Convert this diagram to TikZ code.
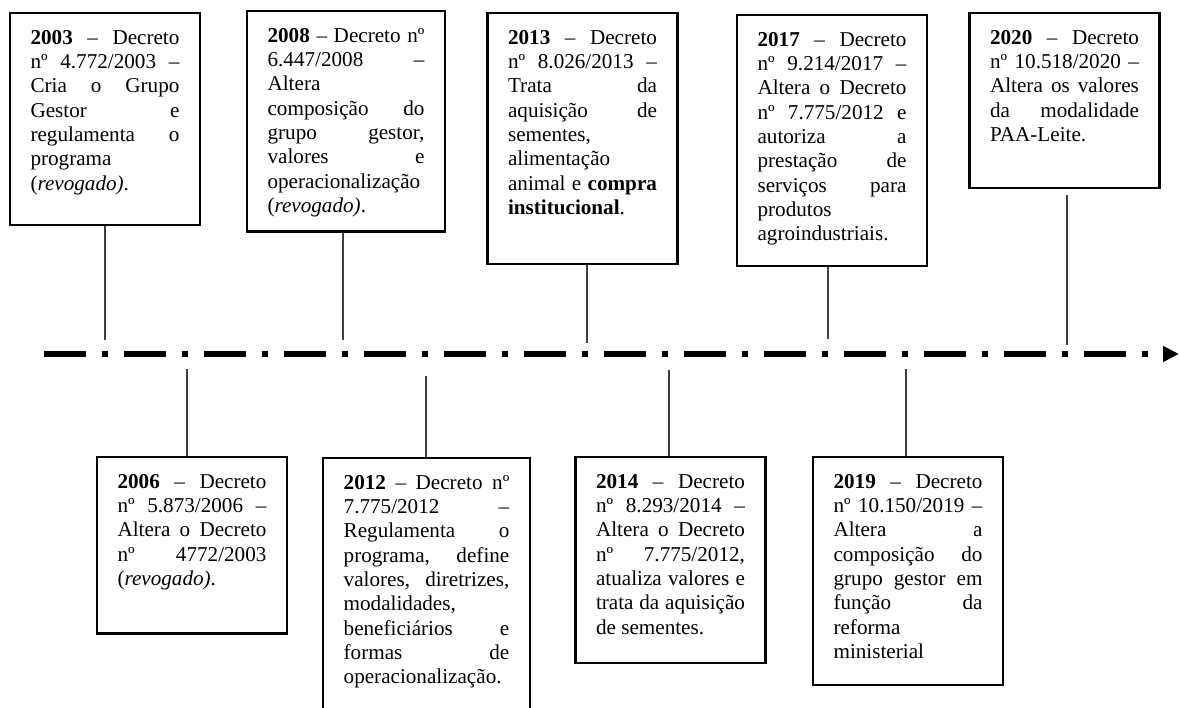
\documentclass[tikz,border=0pt]{standalone}
\usepackage{fontspec}
\setmainfont{Liberation Serif}
\usepackage{tikz}
\usetikzlibrary{arrows.meta}
\definecolor{tlInk}{HTML}{000000}
\definecolor{tlStem}{HTML}{3F3F3F}
\hyphenpenalty=10000
\tolerance=10000
\hbadness=10000
\tikzset{
  decreto/.style={draw=tlInk, line width=1.4pt, text width=84.5pt, align=justify, inner xsep=11.7pt, inner ysep=8.6pt, text height=9pt, anchor=north, font=\fontsize{12pt}{13.8pt}\selectfont},
  haste/.style={draw=tlStem, line width=0.6pt},
  linha/.style={draw=tlInk, line width=3pt, dash pattern=on 23.8pt off 9.1pt on 3.4pt off 9.1pt, -{Triangle[length=9pt,width=8.5pt]}},
}

\begin{document}
\begin{tikzpicture}[x=0.5675pt, y=-0.5675pt]
        \useasboundingbox (0,0) rectangle (1180,708);
        \clip (0,0) rectangle (1180,708);
        % linha do tempo
        \coordinate (inicio) at (44,354);
        \coordinate (fim) at (1179,354);
        \draw[linha] (inicio) -- (fim);
        % decretos acima da linha
        \node[decreto, text depth=94pt] (d2003) at (105,12) {\textbf{2003} – Decreto\linebreak nº 4.772/2003 –\linebreak Cria o Grupo\linebreak Gestor e\linebreak regulamenta o\linebreak programa\linebreak (\textit{revogado)}.};
        \node[decreto, text width=89pt, text depth=98.7pt] (d2008) at (346,10) {\textbf{2008} – Decreto nº\linebreak 6.447/2008 –\linebreak Altera\linebreak composição do\linebreak grupo gestor,\linebreak valores e\linebreak operacionalização\linebreak (\textit{revogado)}.};
        \node[decreto, text depth=116.2pt] (d2013) at (582.5,12) {\textbf{2013} – Decreto\linebreak nº 8.026/2013 –\linebreak Trata da\linebreak aquisição de\linebreak sementes,\linebreak alimentação\linebreak animal e \textbf{compra}\linebreak \textbf{institucional}.};
        \node[decreto, text depth=116.2pt] (d2017) at (832,14) {\textbf{2017} – Decreto\linebreak nº 9.214/2017 –\linebreak Altera o Decreto\linebreak nº 7.775/2012 e\linebreak autoriza a\linebreak prestação de\linebreak serviços para\linebreak produtos\linebreak agroindustriais.};
        \node[decreto, text depth=73.1pt] (d2020) at (1064.5,12) {\textbf{2020} – Decreto\linebreak nº 10.518/2020 –\linebreak Altera os valores\linebreak da modalidade\linebreak PAA-Leite.};
        % decretos abaixo da linha
        \node[decreto, text depth=73.7pt] (d2006) at (192,456) {\textbf{2006} – Decreto\linebreak nº 5.873/2006 –\linebreak Altera o Decreto\linebreak nº 4772/2003\linebreak (\textit{revogado)}.};
        \node[decreto, text width=94pt, text depth=127pt] (d2012) at (426.5,457) {\textbf{2012} – Decreto nº\linebreak 7.775/2012 –\linebreak Regulamenta o\linebreak programa, define\linebreak valores, diretrizes,\linebreak modalidades,\linebreak beneficiários e\linebreak formas de\linebreak operacionalização.};
        \node[decreto, text depth=90.7pt] (d2014) at (670.5,456) {\textbf{2014} – Decreto\linebreak nº 8.293/2014 –\linebreak Altera o Decreto\linebreak nº 7.775/2012,\linebreak atualiza valores e\linebreak trata da aquisição\linebreak de sementes.};
        \node[decreto, text depth=103.2pt] (d2019) at (908,456) {\textbf{2019} – Decreto\linebreak nº 10.150/2019 –\linebreak Altera a\linebreak composição do\linebreak grupo gestor em\linebreak função da\linebreak reforma\linebreak ministerial};
        % hastes
        \coordinate (m2003) at (105,340);
        \coordinate (m2008) at (343,340);
        \coordinate (m2013) at (587,343);
        \coordinate (m2017) at (828,339);
        \coordinate (a2020) at (1067,195);
        \coordinate (m2020) at (1067,345);
        \coordinate (m2006) at (187,369);
        \coordinate (m2012) at (426,376);
        \coordinate (m2014) at (669,370);
        \coordinate (m2019) at (906,369);
        \draw[haste] (m2003 |- d2003.south) -- (m2003); \draw[haste] (m2008 |- d2008.south) -- (m2008); \draw[haste] (m2013 |- d2013.south) -- (m2013);
        \draw[haste] (m2017 |- d2017.south) -- (m2017); \draw[haste] (a2020) -- (m2020);
        \draw[haste] (m2006) -- (m2006 |- d2006.north); \draw[haste] (m2012) -- (m2012 |- d2012.north); \draw[haste] (m2014) -- (m2014 |- d2014.north); \draw[haste] (m2019) -- (m2019 |- d2019.north);
    \end{tikzpicture}
\end{document}
